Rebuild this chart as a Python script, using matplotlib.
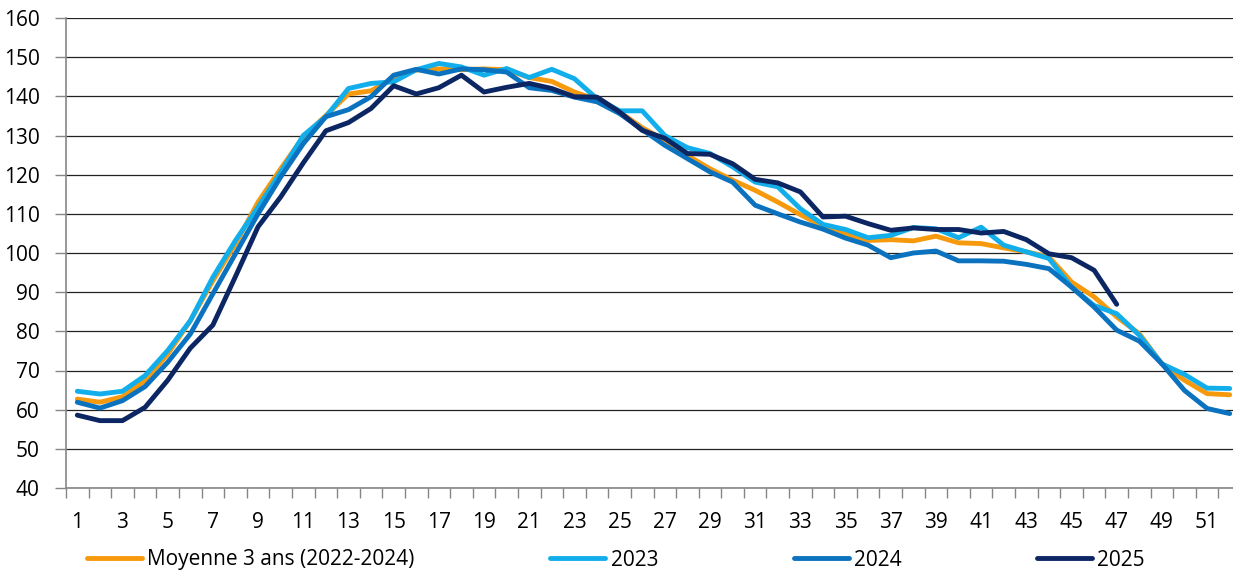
import numpy as np
import matplotlib
matplotlib.use("Agg")
import matplotlib.pyplot as plt
from matplotlib.ticker import MultipleLocator, FixedLocator

plt.rcParams['font.family'] = ['Open Sans', 'DejaVu Sans']

# semaines et series
weeks = list(range(1, 53))

moyenne = [62.7, 61.9, 63.3, 67.4, 74.2, 82.7, 92.9, 102.3, 113.0, 121.5,
           129.6, 135.1, 140.6, 141.4, 144.7, 146.7, 147.0, 146.8, 147.0, 146.8,
           144.8, 143.8, 141.1, 139.1, 136.0, 132.0, 128.8, 124.9, 121.5, 118.6,
           116.0, 113.0, 109.8, 106.8, 104.9, 103.2, 103.4, 103.1, 104.3, 102.6,
           102.4, 101.3, 100.3, 99.0, 92.6, 88.8, 83.7, 79.4, 71.7, 67.5,
           64.1, 63.8]

y2023 = [64.7, 64.0, 64.7, 68.7, 75.1, 82.7, 93.8, 103.2, 111.7, 120.6,
         130.0, 134.8, 142.0, 143.3, 143.7, 146.8, 148.4, 147.5, 145.4, 147.1,
         144.8, 146.9, 144.5, 139.4, 136.3, 136.3, 130.0, 126.9, 125.4, 122.0,
         118.1, 116.9, 111.3, 107.3, 106.0, 103.9, 104.5, 106.5, 106.2, 103.9,
         106.6, 102.0, 100.3, 98.6, 91.3, 86.6, 84.5, 79.0, 71.7, 69.0,
         65.5, 65.4]

y2024 = [61.9, 60.4, 62.3, 65.9, 72.1, 79.3, 89.6, 99.8, 110.0, 119.4,
         127.9, 134.8, 136.6, 139.9, 145.4, 146.9, 145.7, 147.0, 146.8, 146.2,
         142.2, 141.5, 139.8, 138.6, 135.6, 131.5, 127.5, 124.1, 120.7, 118.1,
         112.2, 110.0, 107.9, 106.1, 103.8, 102.0, 98.8, 100.0, 100.5, 98.0,
         98.0, 97.9, 97.1, 96.0, 91.3, 86.2, 80.3, 77.5, 71.7, 64.9,
         60.3, 59.0]

y2025 = [58.6, 57.2, 57.2, 60.6, 67.5, 75.7, 81.6, 94.0, 106.7, 114.3,
         123.0, 131.2, 133.3, 136.9, 142.7, 140.6, 142.2, 145.4, 141.1, 142.3,
         143.3, 142.0, 139.9, 139.8, 136.0, 131.3, 129.3, 125.4, 125.2, 122.8,
         118.8, 117.9, 115.6, 109.2, 109.4, 107.5, 105.8, 106.4, 106.0, 106.0,
         105.1, 105.5, 103.4, 99.8, 98.8, 95.6, 86.9]

series = [("Moyenne 3 ans (2022-2024)", moyenne, "#F7990C"),
          ("2023", y2023, "#12AEEB"),
          ("2024", y2024, "#0A72BF"),
          ("2025", y2025, "#0C2664")]

fs = 15

fig = plt.figure(figsize=(12.33, 5.73), dpi=100)
ax = fig.add_axes([66 / 1233, 1 - 488 / 573, 1175 / 1233, 470 / 573])

for name, vals, col in series:
    ax.plot(weeks[:len(vals)], vals, color=col, lw=3.5, label=name,
            solid_capstyle='round', solid_joinstyle='round')

ax.set_ylim(40, 160)
ax.set_xlim(0.5, 52.5)
ax.yaxis.set_major_locator(MultipleLocator(10))
ax.set_xticks(range(1, 53, 2))
ax.xaxis.set_minor_locator(FixedLocator(np.arange(0.5, 53, 1)))
ax.tick_params(axis='x', which='major', length=0, pad=17, labelsize=fs)
ax.tick_params(axis='x', which='minor', length=7, width=1, color='#868686')
ax.tick_params(axis='y', length=8, width=1, color='#868686', labelsize=fs, pad=11)

ax.grid(axis='y', color='#222222', lw=0.9)
ax.set_axisbelow(True)
for s in ['top', 'right']:
    ax.spines[s].set_visible(False)
for s in ['left', 'bottom']:
    ax.spines[s].set_color('#868686')
    ax.spines[s].set_linewidth(1.2)

fig.legend(loc='center left', bbox_to_anchor=(87 / 1233, 1 - 560 / 573),
           ncol=4, frameon=False, fontsize=fs, borderpad=0, borderaxespad=0,
           handlelength=2.65, handletextpad=0.25, columnspacing=6.5)

fig.savefig("out.png", dpi=100)
